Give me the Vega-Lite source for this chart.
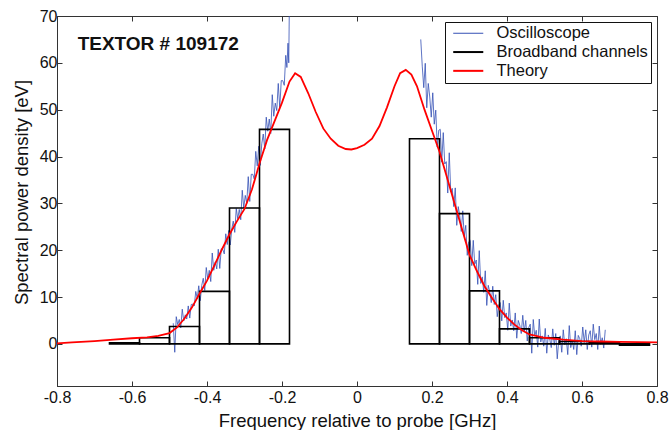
{
  "$schema": "https://vega.github.io/schema/vega-lite/v6.json",
  "width": 600,
  "height": 370,
  "autosize": "none",
  "padding": {"left": 57, "top": 16, "right": 14, "bottom": 44},
  "background": "white",
  "config": {
    "font": "Liberation Sans",
    "view": {"stroke": "#333", "strokeWidth": 1},
    "axis": {
      "domainColor": "#333",
      "tickColor": "#333",
      "grid": false,
      "labelColor": "#111",
      "titleColor": "#111",
      "labelFontSize": 16,
      "titleFontSize": 18.5,
      "titleFontWeight": "normal",
      "tickSize": -5,
      "labelFlush": false,
      "labelOverlap": false
    }
  },
  "datasets": {
    "osc": [
      {"f": -0.490, "v": 4.4, "seg": "L"}, {"f": -0.486, "v": -1.8, "seg": "L"}, {"f": -0.482, "v": 5.8, "seg": "L"}, {"f": -0.478, "v": 4.1, "seg": "L"},
      {"f": -0.474, "v": 5.2, "seg": "L"}, {"f": -0.470, "v": 3.4, "seg": "L"}, {"f": -0.466, "v": 7.4, "seg": "L"}, {"f": -0.462, "v": 4.9, "seg": "L"},
      {"f": -0.458, "v": 6.2, "seg": "L"}, {"f": -0.454, "v": 5.3, "seg": "L"}, {"f": -0.450, "v": 8.1, "seg": "L"}, {"f": -0.446, "v": 5.5, "seg": "L"},
      {"f": -0.442, "v": 8.4, "seg": "L"}, {"f": -0.438, "v": 8.5, "seg": "L"}, {"f": -0.434, "v": 8.1, "seg": "L"}, {"f": -0.430, "v": 11.2, "seg": "L"},
      {"f": -0.426, "v": 9.7, "seg": "L"}, {"f": -0.422, "v": 12.4, "seg": "L"}, {"f": -0.418, "v": 9.2, "seg": "L"}, {"f": -0.414, "v": 12.5, "seg": "L"},
      {"f": -0.410, "v": 14.0, "seg": "L"}, {"f": -0.406, "v": 11.4, "seg": "L"}, {"f": -0.402, "v": 16.3, "seg": "L"}, {"f": -0.398, "v": 13.9, "seg": "L"},
      {"f": -0.394, "v": 15.7, "seg": "L"}, {"f": -0.390, "v": 13.3, "seg": "L"}, {"f": -0.386, "v": 19.4, "seg": "L"}, {"f": -0.382, "v": 15.7, "seg": "L"},
      {"f": -0.378, "v": 17.5, "seg": "L"}, {"f": -0.374, "v": 16.0, "seg": "L"}, {"f": -0.370, "v": 20.2, "seg": "L"}, {"f": -0.366, "v": 16.1, "seg": "L"},
      {"f": -0.362, "v": 20.3, "seg": "L"}, {"f": -0.358, "v": 20.2, "seg": "L"}, {"f": -0.354, "v": 19.2, "seg": "L"}, {"f": -0.350, "v": 23.5, "seg": "L"},
      {"f": -0.346, "v": 21.2, "seg": "L"}, {"f": -0.342, "v": 24.2, "seg": "L"}, {"f": -0.338, "v": 21.1, "seg": "L"}, {"f": -0.334, "v": 24.5, "seg": "L"},
      {"f": -0.330, "v": 26.2, "seg": "L"}, {"f": -0.326, "v": 23.8, "seg": "L"}, {"f": -0.322, "v": 28.9, "seg": "L"}, {"f": -0.318, "v": 26.7, "seg": "L"},
      {"f": -0.314, "v": 28.7, "seg": "L"}, {"f": -0.310, "v": 26.5, "seg": "L"}, {"f": -0.306, "v": 32.8, "seg": "L"}, {"f": -0.302, "v": 29.0, "seg": "L"},
      {"f": -0.298, "v": 31.7, "seg": "L"}, {"f": -0.294, "v": 30.0, "seg": "L"}, {"f": -0.290, "v": 35.7, "seg": "L"}, {"f": -0.286, "v": 30.4, "seg": "L"},
      {"f": -0.282, "v": 36.2, "seg": "L"}, {"f": -0.278, "v": 36.2, "seg": "L"}, {"f": -0.274, "v": 35.2, "seg": "L"}, {"f": -0.270, "v": 41.1, "seg": "L"},
      {"f": -0.266, "v": 38.0, "seg": "L"}, {"f": -0.262, "v": 42.2, "seg": "L"}, {"f": -0.258, "v": 38.1, "seg": "L"}, {"f": -0.254, "v": 42.7, "seg": "L"},
      {"f": -0.250, "v": 44.8, "seg": "L"}, {"f": -0.246, "v": 41.6, "seg": "L"}, {"f": -0.242, "v": 48.4, "seg": "L"}, {"f": -0.238, "v": 45.4, "seg": "L"},
      {"f": -0.234, "v": 48.0, "seg": "L"}, {"f": -0.230, "v": 44.9, "seg": "L"}, {"f": -0.226, "v": 53.2, "seg": "L"}, {"f": -0.222, "v": 48.6, "seg": "L"},
      {"f": -0.218, "v": 51.4, "seg": "L"}, {"f": -0.214, "v": 49.8, "seg": "L"}, {"f": -0.210, "v": 55.6, "seg": "L"}, {"f": -0.206, "v": 50.4, "seg": "L"},
      {"f": -0.202, "v": 56.2, "seg": "L"}, {"f": -0.198, "v": 56.2, "seg": "L"}, {"f": -0.194, "v": 55.2, "seg": "L"}, {"f": -0.190, "v": 61.6, "seg": "L"},
      {"f": -0.187, "v": 59.0, "seg": "L"}, {"f": -0.184, "v": 64.2, "seg": "L"}, {"f": -0.182, "v": 60.0, "seg": "L"}, {"f": -0.180, "v": 75.0, "seg": "L"},
      {"f": 0.170, "v": 65.0, "seg": "R"}, {"f": 0.174, "v": 59.3, "seg": "R"}, {"f": 0.178, "v": 54.7, "seg": "R"}, {"f": 0.182, "v": 59.9, "seg": "R"},
      {"f": 0.186, "v": 50.4, "seg": "R"}, {"f": 0.190, "v": 55.6, "seg": "R"}, {"f": 0.194, "v": 52.7, "seg": "R"}, {"f": 0.198, "v": 48.4, "seg": "R"},
      {"f": 0.202, "v": 53.6, "seg": "R"}, {"f": 0.206, "v": 46.9, "seg": "R"}, {"f": 0.210, "v": 49.9, "seg": "R"}, {"f": 0.214, "v": 42.0, "seg": "R"},
      {"f": 0.218, "v": 45.6, "seg": "R"}, {"f": 0.222, "v": 45.8, "seg": "R"}, {"f": 0.226, "v": 38.8, "seg": "R"}, {"f": 0.230, "v": 45.1, "seg": "R"},
      {"f": 0.234, "v": 38.4, "seg": "R"}, {"f": 0.238, "v": 38.9, "seg": "R"}, {"f": 0.242, "v": 32.2, "seg": "R"}, {"f": 0.246, "v": 40.8, "seg": "R"},
      {"f": 0.250, "v": 32.4, "seg": "R"}, {"f": 0.254, "v": 33.2, "seg": "R"}, {"f": 0.258, "v": 29.3, "seg": "R"}, {"f": 0.262, "v": 33.3, "seg": "R"},
      {"f": 0.266, "v": 25.3, "seg": "R"}, {"f": 0.270, "v": 29.3, "seg": "R"}, {"f": 0.274, "v": 27.3, "seg": "R"}, {"f": 0.278, "v": 24.0, "seg": "R"},
      {"f": 0.282, "v": 28.4, "seg": "R"}, {"f": 0.286, "v": 23.0, "seg": "R"}, {"f": 0.290, "v": 25.3, "seg": "R"}, {"f": 0.294, "v": 18.9, "seg": "R"},
      {"f": 0.298, "v": 21.8, "seg": "R"}, {"f": 0.302, "v": 22.1, "seg": "R"}, {"f": 0.306, "v": 16.7, "seg": "R"}, {"f": 0.310, "v": 22.1, "seg": "R"},
      {"f": 0.314, "v": 17.0, "seg": "R"}, {"f": 0.318, "v": 17.9, "seg": "R"}, {"f": 0.322, "v": 12.7, "seg": "R"}, {"f": 0.326, "v": 19.9, "seg": "R"},
      {"f": 0.330, "v": 12.9, "seg": "R"}, {"f": 0.334, "v": 14.3, "seg": "R"}, {"f": 0.338, "v": 11.0, "seg": "R"}, {"f": 0.342, "v": 15.6, "seg": "R"},
      {"f": 0.346, "v": 8.2, "seg": "R"}, {"f": 0.350, "v": 12.5, "seg": "R"}, {"f": 0.354, "v": 11.1, "seg": "R"}, {"f": 0.358, "v": 8.8, "seg": "R"},
      {"f": 0.362, "v": 12.3, "seg": "R"}, {"f": 0.366, "v": 8.4, "seg": "R"}, {"f": 0.370, "v": 10.5, "seg": "R"}, {"f": 0.374, "v": 5.8, "seg": "R"},
      {"f": 0.378, "v": 8.3, "seg": "R"}, {"f": 0.382, "v": 8.8, "seg": "R"}, {"f": 0.386, "v": 4.9, "seg": "R"}, {"f": 0.390, "v": 9.3, "seg": "R"},
      {"f": 0.394, "v": 5.6, "seg": "R"}, {"f": 0.398, "v": 6.6, "seg": "R"}, {"f": 0.402, "v": 2.9, "seg": "R"}, {"f": 0.406, "v": 8.7, "seg": "R"},
      {"f": 0.410, "v": 3.8, "seg": "R"}, {"f": 0.414, "v": 5.1, "seg": "R"}, {"f": 0.418, "v": 2.8, "seg": "R"}, {"f": 0.422, "v": 6.6, "seg": "R"},
      {"f": 0.426, "v": 1.2, "seg": "R"}, {"f": 0.430, "v": 5.0, "seg": "R"}, {"f": 0.434, "v": 4.0, "seg": "R"}, {"f": 0.438, "v": 2.2, "seg": "R"},
      {"f": 0.442, "v": 6.1, "seg": "R"}, {"f": 0.446, "v": 2.6, "seg": "R"}, {"f": 0.450, "v": 5.0, "seg": "R"}, {"f": 0.454, "v": 0.6, "seg": "R"},
      {"f": 0.458, "v": 3.5, "seg": "R"}, {"f": 0.462, "v": 4.2, "seg": "R"}, {"f": 0.466, "v": -2.0, "seg": "R"}, {"f": 0.470, "v": 5.2, "seg": "R"},
      {"f": 0.474, "v": 1.7, "seg": "R"}, {"f": 0.478, "v": 2.9, "seg": "R"}, {"f": 0.482, "v": -0.7, "seg": "R"}, {"f": 0.486, "v": 5.3, "seg": "R"},
      {"f": 0.490, "v": 0.4, "seg": "R"}, {"f": 0.494, "v": 1.7, "seg": "R"}, {"f": 0.498, "v": -0.5, "seg": "R"}, {"f": 0.502, "v": 3.3, "seg": "R"},
      {"f": 0.506, "v": -2.0, "seg": "R"}, {"f": 0.510, "v": 1.9, "seg": "R"}, {"f": 0.514, "v": 1.0, "seg": "R"}, {"f": 0.518, "v": -0.8, "seg": "R"},
      {"f": 0.522, "v": 3.2, "seg": "R"}, {"f": 0.526, "v": -0.3, "seg": "R"}, {"f": 0.530, "v": 2.2, "seg": "R"}, {"f": 0.534, "v": -3.2, "seg": "R"},
      {"f": 0.538, "v": 0.9, "seg": "R"}, {"f": 0.542, "v": 1.7, "seg": "R"}, {"f": 0.546, "v": -1.8, "seg": "R"}, {"f": 0.550, "v": 3.0, "seg": "R"},
      {"f": 0.554, "v": -0.2, "seg": "R"}, {"f": 0.558, "v": 1.1, "seg": "R"}, {"f": 0.562, "v": -2.3, "seg": "R"}, {"f": 0.566, "v": 3.9, "seg": "R"},
      {"f": 0.570, "v": -0.8, "seg": "R"}, {"f": 0.574, "v": 0.8, "seg": "R"}, {"f": 0.578, "v": -1.2, "seg": "R"}, {"f": 0.582, "v": 2.8, "seg": "R"},
      {"f": 0.586, "v": -2.3, "seg": "R"}, {"f": 0.590, "v": 1.8, "seg": "R"}, {"f": 0.594, "v": 1.1, "seg": "R"}, {"f": 0.598, "v": -0.5, "seg": "R"},
      {"f": 0.602, "v": 3.6, "seg": "R"}, {"f": 0.606, "v": 0.3, "seg": "R"}, {"f": 0.610, "v": 3.0, "seg": "R"}, {"f": 0.614, "v": -1.2, "seg": "R"},
      {"f": 0.618, "v": 1.9, "seg": "R"}, {"f": 0.622, "v": 2.8, "seg": "R"}, {"f": 0.626, "v": -0.7, "seg": "R"}, {"f": 0.630, "v": 4.2, "seg": "R"},
      {"f": 0.634, "v": 0.9, "seg": "R"}, {"f": 0.638, "v": 2.2, "seg": "R"}, {"f": 0.642, "v": -1.2, "seg": "R"}, {"f": 0.646, "v": 3.8, "seg": "R"},
      {"f": 0.650, "v": -0.1, "seg": "R"}, {"f": 0.654, "v": 1.3, "seg": "R"}, {"f": 0.658, "v": -0.9, "seg": "R"}, {"f": 0.662, "v": 3.0, "seg": "R"}
    ],
    "bars": [
      {"f1": -0.66, "f2": -0.58, "b": 0, "h": 0.2},
      {"f1": -0.58, "f2": -0.50, "b": 0, "h": 1.3},
      {"f1": -0.50, "f2": -0.42, "b": 0, "h": 3.7},
      {"f1": -0.42, "f2": -0.34, "b": 0, "h": 11.2},
      {"f1": -0.34, "f2": -0.26, "b": 0, "h": 29.0},
      {"f1": -0.26, "f2": -0.18, "b": 0, "h": 45.8},
      {"f1": 0.14, "f2": 0.22, "b": 0, "h": 43.8},
      {"f1": 0.22, "f2": 0.30, "b": 0, "h": 27.8},
      {"f1": 0.30, "f2": 0.38, "b": 0, "h": 11.3},
      {"f1": 0.38, "f2": 0.46, "b": 0, "h": 3.2},
      {"f1": 0.46, "f2": 0.54, "b": 0, "h": 1.3},
      {"f1": 0.54, "f2": 0.62, "b": 0, "h": 0.5},
      {"f1": 0.62, "f2": 0.70, "b": 0, "h": 0.2},
      {"f1": 0.70, "f2": 0.78, "b": 0, "h": -0.3}
    ],
    "theory": [
      {"f": -0.80, "v": 0.1}, {"f": -0.76, "v": 0.3}, {"f": -0.70, "v": 0.6}, {"f": -0.65, "v": 0.9},
      {"f": -0.60, "v": 1.2}, {"f": -0.56, "v": 1.4}, {"f": -0.53, "v": 1.7}, {"f": -0.50, "v": 2.3},
      {"f": -0.48, "v": 3.5}, {"f": -0.46, "v": 5.4}, {"f": -0.44, "v": 7.8}, {"f": -0.42, "v": 10.7},
      {"f": -0.40, "v": 13.5}, {"f": -0.38, "v": 16.8}, {"f": -0.36, "v": 20.2}, {"f": -0.34, "v": 23.4},
      {"f": -0.32, "v": 26.2}, {"f": -0.30, "v": 28.8}, {"f": -0.28, "v": 33.0}, {"f": -0.26, "v": 38.5},
      {"f": -0.24, "v": 43.5}, {"f": -0.22, "v": 47.5}, {"f": -0.20, "v": 51.5}, {"f": -0.18, "v": 56.0},
      {"f": -0.165, "v": 57.8}, {"f": -0.15, "v": 57.0}, {"f": -0.13, "v": 53.5}, {"f": -0.11, "v": 49.5},
      {"f": -0.09, "v": 46.0}, {"f": -0.07, "v": 43.8}, {"f": -0.05, "v": 42.3}, {"f": -0.03, "v": 41.6},
      {"f": -0.015, "v": 41.5}, {"f": 0.00, "v": 41.8}, {"f": 0.02, "v": 42.5}, {"f": 0.04, "v": 43.8},
      {"f": 0.06, "v": 46.5}, {"f": 0.08, "v": 50.5}, {"f": 0.10, "v": 55.0}, {"f": 0.115, "v": 57.8},
      {"f": 0.13, "v": 58.5}, {"f": 0.145, "v": 57.5}, {"f": 0.16, "v": 55.0}, {"f": 0.18, "v": 50.0},
      {"f": 0.20, "v": 45.5}, {"f": 0.22, "v": 41.0}, {"f": 0.24, "v": 35.5}, {"f": 0.26, "v": 30.0},
      {"f": 0.28, "v": 24.5}, {"f": 0.30, "v": 19.0}, {"f": 0.32, "v": 15.5}, {"f": 0.34, "v": 12.3},
      {"f": 0.36, "v": 9.8}, {"f": 0.38, "v": 7.4}, {"f": 0.40, "v": 5.6}, {"f": 0.42, "v": 4.1},
      {"f": 0.44, "v": 2.9}, {"f": 0.46, "v": 2.0}, {"f": 0.50, "v": 1.3}, {"f": 0.55, "v": 0.9},
      {"f": 0.60, "v": 0.6}, {"f": 0.65, "v": 0.5}, {"f": 0.70, "v": 0.4}, {"f": 0.80, "v": 0.3}
    ],
    "label": [{"f": -0.745, "v": 64, "t": "TEXTOR # 109172"}]
  },
  "resolve": {"axis": {"x": "independent", "y": "independent"}},
  "layer": [
    {
      "data": {"name": "osc"},
      "mark": {"type": "line", "strokeWidth": 0.8, "clip": true},
      "encoding": {
        "x": {"field": "f", "type": "quantitative", "scale": {"domain": [-0.8, 0.8], "nice": false},
          "axis": {"orient": "bottom", "values": [-0.8, -0.6, -0.4, -0.2, 0, 0.2, 0.4, 0.6, 0.8], "title": "Frequency relative to probe [GHz]", "labelPadding": 8, "titlePadding": 6,
            "labelExpr": "datum.value < 0 ? '-' + format(-datum.value, '.1f') : (datum.value == 0 ? '0' : format(datum.value, '.1f'))"}},
        "y": {"field": "v", "type": "quantitative", "scale": {"domain": [-9, 70], "nice": false, "zero": false},
          "axis": {"orient": "left", "values": [0, 10, 20, 30, 40, 50, 60, 70], "title": "Spectral power density [eV]", "labelPadding": 5, "titlePadding": 8, "titleY": 176}},
        "detail": {"field": "seg"},
        "color": {"datum": "Oscilloscope", "type": "nominal",
          "scale": {"domain": ["Oscilloscope", "Broadband channels", "Theory"], "range": ["#3550b5", "#000000", "#ff0000"]},
          "legend": {
            "title": null, "orient": "top-right", "offset": 6, "padding": 3,
            "strokeColor": "#111", "fillColor": "white",
            "labelFontSize": 16.5, "labelColor": "#111", "labelOffset": 20, "labelLimit": 300,
            "labelExpr": "datum.label + '\u00a0\u00a0\u00a0\u00a0'",
            "symbolType": "M-1.67,0H1.67", "symbolSize": 324, "symbolStrokeWidth": 2, "symbolFillColor": "transparent",
            "symbolOffset": 12,
            "rowPadding": 1.8,
            "encode": {"symbols": {"update": {"strokeWidth": {"signal": "datum.value === 'Oscilloscope' ? 1 : 2"}}}}
          }}
      }
    },
    {
      "data": {"name": "bars"},
      "mark": {"type": "rect", "filled": false, "strokeWidth": 1.6, "clip": true},
      "encoding": {
        "x": {"field": "f1", "type": "quantitative", "axis": {"orient": "top", "values": [-0.8, -0.6, -0.4, -0.2, 0, 0.2, 0.4, 0.6, 0.8], "labels": false, "title": null, "domain": false}},
        "x2": {"field": "f2"},
        "y": {"field": "b", "type": "quantitative", "axis": {"orient": "right", "values": [0, 10, 20, 30, 40, 50, 60, 70], "labels": false, "title": null, "domain": false}},
        "y2": {"field": "h"},
        "color": {"datum": "Broadband channels", "type": "nominal"}
      }
    },
    {
      "data": {"name": "theory"},
      "mark": {"type": "line", "strokeWidth": 1.8, "clip": true},
      "encoding": {
        "x": {"field": "f", "type": "quantitative", "axis": null},
        "y": {"field": "v", "type": "quantitative", "axis": null},
        "color": {"datum": "Theory", "type": "nominal"}
      }
    },
    {
      "data": {"name": "label"},
      "mark": {"type": "text", "align": "left", "baseline": "middle", "fontSize": 19, "fontWeight": "bold", "color": "#111"},
      "encoding": {
        "x": {"field": "f", "type": "quantitative", "axis": null},
        "y": {"field": "v", "type": "quantitative", "axis": null},
        "text": {"field": "t"}
      }
    }
  ]
}
